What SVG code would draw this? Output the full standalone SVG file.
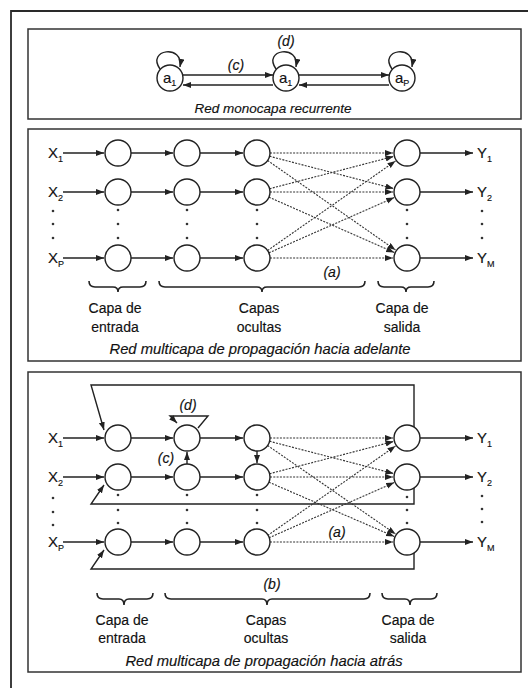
<svg xmlns="http://www.w3.org/2000/svg" width="528" height="688" viewBox="0 0 528 688">
  <defs>
    <style>
      .frame { fill: none; stroke: #2a2a2a; stroke-width: 1.8; }
      .panel { fill: #fff; stroke: #333; stroke-width: 1.5; }
      .n { fill: #fff; stroke: #222; stroke-width: 1.4; }
      .w { fill: none; stroke: #222; stroke-width: 1.4; }
      .dl { fill: none; stroke: #333; stroke-width: 1.1; stroke-dasharray: 2 1.3; }
      .brace { fill: none; stroke: #222; stroke-width: 1.6; }
      .t { font-family: "Liberation Sans", Arial, sans-serif; font-size: 14px; fill: #111; stroke: #111; stroke-width: 0.15; }
      .lg { font-size: 15px; }
      .c { text-anchor: middle; }
      .it { font-style: italic; }
      .sub { font-size: 9px; }
      .dots circle { fill: #333; }
    </style>
    <marker id="ah" markerUnits="userSpaceOnUse" markerWidth="9" markerHeight="7" refX="8" refY="3" orient="auto">
      <path d="M0,0 L8,3 L0,6 z" fill="#222"/>
    </marker>
  </defs>

  <rect width="528" height="688" fill="#fff"/>
  <!-- outer frame -->
  <path class="frame" d="M11,688 V11 H528"/>

  <!-- panels -->
  <rect class="panel" x="28" y="29" width="493" height="90"/>
  <rect class="panel" x="28" y="129" width="493" height="232"/>
  <rect class="panel" x="28" y="372" width="493" height="300"/>

  <!-- ========== connectors ========== -->
  <g id="connectors" class="w" marker-end="url(#ah)">
    <!-- single-layer recurrent net -->
    <path d="M183,75 H273"/>
    <path d="M273,85 H183"/>
    <path d="M299,75 H389"/>
    <path d="M389,85 H299"/>
    <path d="M160,69 C146,49 184,44 180,67"/>
    <path d="M276,69 C262,49 300,44 296,67"/>
    <path d="M392,69 C378,49 416,44 412,67"/>

    <!-- feed-forward multilayer net -->
    <path d="M63,153 H104"/>
    <path d="M63,192 H104"/>
    <path d="M63,258 H104"/>
    <path d="M131,153 H173"/>
    <path d="M131,192 H173"/>
    <path d="M131,258 H173"/>
    <path d="M200,153 H243"/>
    <path d="M200,192 H243"/>
    <path d="M200,258 H243"/>
    <path d="M420,153 H473"/>
    <path d="M420,192 H473"/>
    <path d="M420,258 H473"/>
    <g class="dl">
      <path d="M270,153 L393,153"/>
      <path d="M269.6,156.3 L393.5,188.5"/>
      <path d="M267.6,160.5 L395.5,250"/>
      <path d="M269.6,188.7 L393.5,156.5"/>
      <path d="M270,192 L393,192"/>
      <path d="M268.9,197.2 L394.2,252.4"/>
      <path d="M267.6,250.5 L395.5,161"/>
      <path d="M268.9,252.8 L394.2,197.6"/>
      <path d="M270,258 L393,258"/>
    </g>

    <!-- back-propagating multilayer net -->
    <path d="M63,438 H104"/>
    <path d="M63,477 H104"/>
    <path d="M63,542 H104"/>
    <path d="M131,438 H173"/>
    <path d="M131,477 H173"/>
    <path d="M131,542 H173"/>
    <path d="M200,438 H243"/>
    <path d="M200,477 H243"/>
    <path d="M200,542 H243"/>
    <path d="M420,438 H473"/>
    <path d="M420,477 H473"/>
    <path d="M420,542 H473"/>
    <path d="M187,464 V452"/>
    <path d="M257,451 V463"/>
    <path d="M198,428 L208,416 H170 L177,423"/>
    <path d="M414,427 V385 H91 L104,430"/>
    <path d="M414,488 V504 H91 L104,485"/>
    <path d="M414,553 V569 H91 L104,550"/>
    <g class="dl">
      <path d="M270,438 L393,438"/>
      <path d="M269.6,441.3 L393.5,473.5"/>
      <path d="M267.6,445.5 L395.5,534"/>
      <path d="M269.6,473.7 L393.5,441.5"/>
      <path d="M270,477 L393,477"/>
      <path d="M268.9,482.2 L394.2,536.4"/>
      <path d="M267.6,535.5 L395.5,446"/>
      <path d="M268.9,537.8 L394.2,482.6"/>
      <path d="M270,542 L393,542"/>
    </g>
  </g>

  <!-- ========== single-layer recurrent net ========== -->
  <g id="rec-a1" class="t lg">
    <circle class="n" cx="170" cy="78" r="13"/>
    <text x="163" y="83">a<tspan class="sub" dy="3">1</tspan></text>
  </g>
  <g id="rec-ai" class="t lg">
    <circle class="n" cx="286" cy="78" r="13"/>
    <text x="279" y="83">a<tspan class="sub" dy="3">1</tspan></text>
  </g>
  <g id="rec-ap" class="t lg">
    <circle class="n" cx="402" cy="78" r="13"/>
    <text x="395" y="83">a<tspan class="sub" dy="3">P</tspan></text>
  </g>
  <text class="t c it" x="236" y="70">(c)</text>
  <text class="t c it" x="286" y="46">(d)</text>
  <text class="t c it" x="273" y="113" style="font-size:13.5px">Red monocapa recurrente</text>

  <!-- ========== feed-forward multilayer net ========== -->
  <g id="ff-x1" class="t lg"><text x="48" y="158">X<tspan class="sub" dy="4">1</tspan></text></g>
  <g id="ff-x2" class="t lg"><text x="48" y="197">X<tspan class="sub" dy="4">2</tspan></text></g>
  <g id="ff-xp" class="t lg"><text x="48" y="263">X<tspan class="sub" dy="4">P</tspan></text></g>

  <g id="ff-in1"><circle class="n" cx="118" cy="153" r="13"/></g>
  <g id="ff-in2"><circle class="n" cx="118" cy="192" r="13"/></g>
  <g id="ff-in3"><circle class="n" cx="118" cy="258" r="13"/></g>
  <g id="ff-h11"><circle class="n" cx="187" cy="153" r="13"/></g>
  <g id="ff-h12"><circle class="n" cx="187" cy="192" r="13"/></g>
  <g id="ff-h13"><circle class="n" cx="187" cy="258" r="13"/></g>
  <g id="ff-h21"><circle class="n" cx="257" cy="153" r="13"/></g>
  <g id="ff-h22"><circle class="n" cx="257" cy="192" r="13"/></g>
  <g id="ff-h23"><circle class="n" cx="257" cy="258" r="13"/></g>
  <g id="ff-out1"><circle class="n" cx="407" cy="153" r="13"/></g>
  <g id="ff-out2"><circle class="n" cx="407" cy="192" r="13"/></g>
  <g id="ff-out3"><circle class="n" cx="407" cy="258" r="13"/></g>

  <g id="ff-y1" class="t lg"><text x="477" y="158">Y<tspan class="sub" dy="4">1</tspan></text></g>
  <g id="ff-y2" class="t lg"><text x="477" y="197">Y<tspan class="sub" dy="4">2</tspan></text></g>
  <g id="ff-ym" class="t lg"><text x="477" y="263">Y<tspan class="sub" dy="4">M</tspan></text></g>

  <g class="dots">
    <circle cx="53" cy="211" r="1.3"/><circle cx="53" cy="224" r="1.3"/><circle cx="53" cy="238" r="1.3"/>
    <circle cx="118" cy="210" r="1.3"/><circle cx="118" cy="224" r="1.3"/><circle cx="118" cy="238" r="1.3"/>
    <circle cx="187" cy="210" r="1.3"/><circle cx="187" cy="224" r="1.3"/><circle cx="187" cy="238" r="1.3"/>
    <circle cx="257" cy="210" r="1.3"/><circle cx="257" cy="224" r="1.3"/><circle cx="257" cy="238" r="1.3"/>
    <circle cx="407" cy="210" r="1.3"/><circle cx="407" cy="224" r="1.3"/><circle cx="407" cy="238" r="1.3"/>
    <circle cx="482" cy="211" r="1.3"/><circle cx="482" cy="224" r="1.3"/><circle cx="482" cy="238" r="1.3"/>
  </g>

  <text class="t c it" x="332" y="277">(a)</text>

  <path class="brace" d="M89,281 Q89,287 95,287 H113 Q118,287 118,292 Q118,287 123,287 H140 Q146,287 146,281"/>
  <path class="brace" d="M159,281 Q159,287 165,287 H257 Q262,287 262,292 Q262,287 267,287 H359 Q365,287 365,281"/>
  <path class="brace" d="M378,281 Q378,287 384,287 H401 Q406,287 406,292 Q406,287 411,287 H428 Q434,287 434,281"/>

  <text class="t c" x="115" y="313">Capa de</text>
  <text class="t c" x="115" y="332">entrada</text>
  <text class="t c" x="259" y="313">Capas</text>
  <text class="t c" x="259" y="332">ocultas</text>
  <text class="t c" x="402" y="313">Capa de</text>
  <text class="t c" x="402" y="332">salida</text>
  <text class="t c it" x="260" y="354" style="font-size:14.8px">Red multicapa de propagación hacia adelante</text>

  <!-- ========== back-propagating multilayer net ========== -->
  <g id="bp-x1" class="t lg"><text x="48" y="443">X<tspan class="sub" dy="4">1</tspan></text></g>
  <g id="bp-x2" class="t lg"><text x="48" y="482">X<tspan class="sub" dy="4">2</tspan></text></g>
  <g id="bp-xp" class="t lg"><text x="48" y="547">X<tspan class="sub" dy="4">P</tspan></text></g>

  <g id="bp-in1"><circle class="n" cx="118" cy="438" r="13"/></g>
  <g id="bp-in2"><circle class="n" cx="118" cy="477" r="13"/></g>
  <g id="bp-in3"><circle class="n" cx="118" cy="542" r="13"/></g>
  <g id="bp-h11"><circle class="n" cx="187" cy="438" r="13"/></g>
  <g id="bp-h12"><circle class="n" cx="187" cy="477" r="13"/></g>
  <g id="bp-h13"><circle class="n" cx="187" cy="542" r="13"/></g>
  <g id="bp-h21"><circle class="n" cx="257" cy="438" r="13"/></g>
  <g id="bp-h22"><circle class="n" cx="257" cy="477" r="13"/></g>
  <g id="bp-h23"><circle class="n" cx="257" cy="542" r="13"/></g>
  <g id="bp-out1"><circle class="n" cx="407" cy="438" r="13"/></g>
  <g id="bp-out2"><circle class="n" cx="407" cy="477" r="13"/></g>
  <g id="bp-out3"><circle class="n" cx="407" cy="542" r="13"/></g>

  <g id="bp-y1" class="t lg"><text x="477" y="443">Y<tspan class="sub" dy="4">1</tspan></text></g>
  <g id="bp-y2" class="t lg"><text x="477" y="482">Y<tspan class="sub" dy="4">2</tspan></text></g>
  <g id="bp-ym" class="t lg"><text x="477" y="547">Y<tspan class="sub" dy="4">M</tspan></text></g>

  <g class="dots">
    <circle cx="53" cy="498" r="1.3"/><circle cx="53" cy="512" r="1.3"/><circle cx="53" cy="525" r="1.3"/>
    <circle cx="118" cy="495" r="1.3"/><circle cx="118" cy="510" r="1.3"/><circle cx="118" cy="523" r="1.3"/>
    <circle cx="187" cy="495" r="1.3"/><circle cx="187" cy="510" r="1.3"/><circle cx="187" cy="523" r="1.3"/>
    <circle cx="257" cy="495" r="1.3"/><circle cx="257" cy="510" r="1.3"/><circle cx="257" cy="523" r="1.3"/>
    <circle cx="407" cy="497" r="1.3"/><circle cx="407" cy="510" r="1.3"/><circle cx="407" cy="523" r="1.3"/>
    <circle cx="482" cy="496" r="1.3"/><circle cx="482" cy="509" r="1.3"/><circle cx="482" cy="522" r="1.3"/>
  </g>

  <text class="t c it" x="188" y="410">(d)</text>
  <text class="t c it" x="166" y="463">(c)</text>
  <text class="t c it" x="337" y="537">(a)</text>
  <text class="t c it" x="272" y="589">(b)</text>

  <path class="brace" d="M97,593 Q97,599 103,599 H119 Q124,599 124,605 Q124,599 129,599 H147 Q153,599 153,593"/>
  <path class="brace" d="M165,593 Q165,599 171,599 H262 Q267,599 267,605 Q267,599 272,599 H364 Q370,599 370,593"/>
  <path class="brace" d="M382,593 Q382,599 388,599 H405 Q410,599 410,605 Q410,599 415,599 H431 Q437,599 437,593"/>

  <text class="t c" x="122" y="625">Capa de</text>
  <text class="t c" x="122" y="643">entrada</text>
  <text class="t c" x="266" y="625">Capas</text>
  <text class="t c" x="266" y="643">ocultas</text>
  <text class="t c" x="408" y="625">Capa de</text>
  <text class="t c" x="408" y="643">salida</text>
  <text class="t c it" x="264" y="666" style="font-size:14.8px">Red multicapa de propagación hacia atrás</text>
</svg>
